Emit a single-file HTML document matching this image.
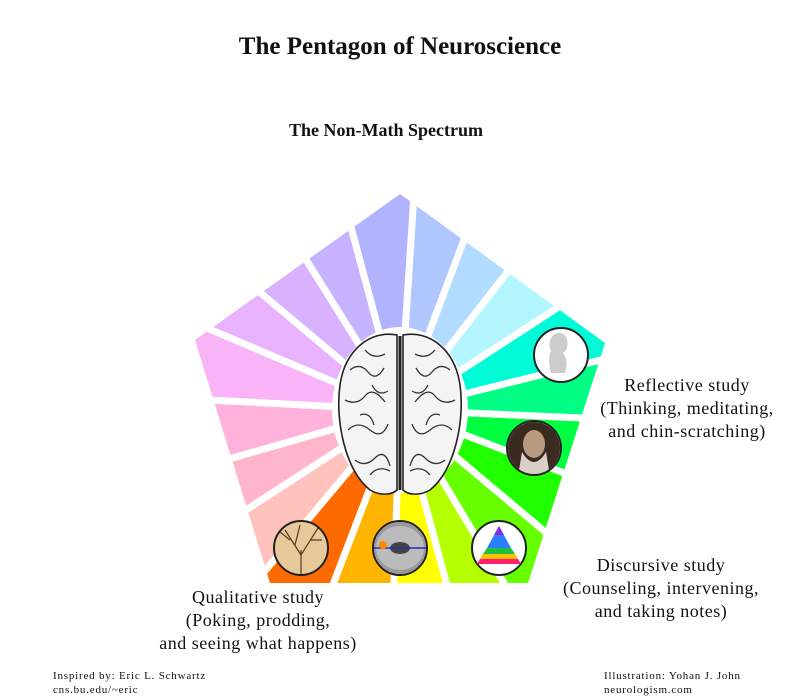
<!DOCTYPE html>
<html><head><meta charset="utf-8"><style>
html,body{margin:0;padding:0;background:#fff;}
body{width:800px;height:700px;overflow:hidden;position:relative;font-family:"Liberation Serif",serif;color:#111;}
.t{position:absolute;text-align:center;white-space:nowrap;}
.l{font-size:18px;line-height:23px;letter-spacing:0.5px;}
.f{font-size:11px;line-height:14px;text-align:left;letter-spacing:0.8px;}
</style></head><body>
<svg id="s" width="800" height="700" viewBox="0 0 800 700" style="position:absolute;left:0;top:0">
<defs>
<clipPath id="pent"><polygon points="400,194 605,343 528,583 270,583 195,340"/></clipPath>
<clipPath id="c1"><circle cx="561" cy="355" r="26"/></clipPath>
<clipPath id="c2"><circle cx="534" cy="448" r="26"/></clipPath>
<clipPath id="c3"><circle cx="499" cy="548" r="26"/></clipPath>
<clipPath id="c4"><circle cx="400" cy="548" r="26"/></clipPath>
<clipPath id="c5"><circle cx="301" cy="548" r="26"/></clipPath>
</defs>
<g id="wedges" clip-path="url(#pent)"></g>
<g id="gaps" stroke="#fff" stroke-width="7"></g>
<ellipse cx="400" cy="410" rx="68" ry="83" fill="#fff"/>
<g fill="#f4f4f4" stroke="#222" stroke-width="1.6">
<path d="M397,335 C370,330 345,350 340,385 C335,420 345,470 370,490 C380,496 392,495 397,490 Z"/>
<path d="M403,335 C430,330 455,350 460,385 C465,420 455,470 430,490 C420,496 408,495 403,490 Z"/>
</g>
<g fill="none" stroke="#333" stroke-width="1.3">
<path d="M350,370 q10,-8 18,2 t16,-4 M345,400 q12,6 20,-4 t20,6 M348,430 q10,-10 22,0 t18,-6 M355,460 q10,8 20,-2 t15,8 M365,350 q8,10 20,4 M372,385 q6,12 16,6 M360,415 q10,-4 14,10 M370,475 q8,-10 20,-4"/>
<path d="M450,370 q-10,-8 -18,2 t-16,-4 M455,400 q-12,6 -20,-4 t-20,6 M452,430 q-10,-10 -22,0 t-18,-6 M445,460 q-10,8 -20,-2 t-15,8 M435,350 q-8,10 -20,4 M428,385 q-6,12 -16,6 M440,415 q-10,-4 -14,10 M430,475 q-8,-10 -20,-4"/>
</g>
<line x1="400" y1="336" x2="400" y2="490" stroke="#222" stroke-width="3"/>
<circle cx="561" cy="355" r="27" fill="#fff" stroke="#222" stroke-width="2"/>
<g clip-path="url(#c1)"><path d="M553,335 q10,-6 14,4 q2,10 -4,14 q6,8 2,20 l-14,0 q-4,-14 0,-22 q-4,-8 2,-16z" fill="#ccc"/></g>
<circle cx="534" cy="448" r="27" fill="#fff" stroke="#222" stroke-width="2"/>
<g clip-path="url(#c2)"><rect x="505" y="420" width="60" height="60" fill="#3a2a20"/><ellipse cx="534" cy="444" rx="11" ry="14" fill="#b89a80"/><path d="M522,452 q12,20 24,0 l4,24 l-32,0z" fill="#d8d0c8"/></g>
<circle cx="499" cy="548" r="27" fill="#fff" stroke="#222" stroke-width="2"/>
<g><polygon points="499,526 487,548 511,548" fill="#2a7fff"/><polygon points="499,526 494,535 504,535" fill="#8a2be2"/><polygon points="487,548 511,548 515,554 483,554" fill="#20c040"/><polygon points="483,554 515,554 518,559 480,559" fill="#ffc000"/><polygon points="480,559 518,559 521,564 477,564" fill="#ff2070"/></g>
<circle cx="400" cy="548" r="27" fill="#fff" stroke="#222" stroke-width="2"/>
<g clip-path="url(#c4)"><rect x="370" y="520" width="60" height="60" fill="#999"/><ellipse cx="400" cy="548" rx="24" ry="22" fill="#bbb"/><ellipse cx="400" cy="548" rx="10" ry="6" fill="#444"/><line x1="374" y1="548" x2="428" y2="548" stroke="#2233aa" stroke-width="1.5"/><circle cx="383" cy="545" r="4" fill="#f80"/></g>
<circle cx="301" cy="548" r="27" fill="#e8c99a" stroke="#222" stroke-width="2"/>
<g clip-path="url(#c5)" stroke="#5a3a20" stroke-width="1.2" fill="none"><path d="M301,575 L301,550 M301,555 L285,530 M301,555 L318,528 M290,540 L280,532 M310,540 L322,540 M295,545 L300,525"/></g>
</svg>
<div class="t" style="left:0;width:800px;top:33px;font-size:25px;font-weight:bold;">The Pentagon of Neuroscience</div>
<div class="t" style="left:0;width:772px;top:120px;font-size:18px;font-weight:bold;">The Non-Math Spectrum</div>
<div class="t l" style="left:567px;width:240px;top:374px;">Reflective study<br>(Thinking, meditating,<br>and chin-scratching)</div>
<div class="t l" style="left:531px;width:260px;top:554px;">Discursive study<br>(Counseling, intervening,<br>and taking notes)</div>
<div class="t l" style="left:128px;width:260px;top:586px;">Qualitative study<br>(Poking, prodding,<br>and seeing what happens)</div>
<div class="t f" style="left:53px;top:669px;">Inspired by: Eric L. Schwartz<br>cns.bu.edu/~eric</div>
<div class="t f" style="left:604px;top:669px;">Illustration: Yohan J. John<br>neurologism.com</div>
<script>
var b=[345,3.7,20.6,37.9,57,76,92.5,111,130,149,165,182,201,220,237,254,273,293,310,328,345];
var c=["#b2b3ff","#b0c6ff","#b2dcff","#b3f6ff","#00fbd6","#00ff84","#00ff40","#20ff00","#66ff00","#b4ff00","#ffff00","#ffb400","#ff6a00","#ffc2bc","#ffb6ca","#ffb2dc","#f8b4f6","#e8b2ff","#d8b2ff","#c6b2ff"];
var cx=400,cy=410,R=320,w="",g="";
function p(a){a=a*Math.PI/180;return [(cx+R*Math.sin(a)).toFixed(1),(cy-R*Math.cos(a)).toFixed(1)];}
for(var i=0;i<20;i++){var a0=b[i],a1=b[i+1];if(a1<a0)a1+=360;var m=(a0+a1)/2;
var P=[p(a0),p(m),p(a1)];w+='<polygon fill="'+c[i]+'" points="'+cx+','+cy+' '+P.map(function(q){return q.join(',')}).join(' ')+'"/>';
var q=p(a0);g+='<line x1="'+cx+'" y1="'+cy+'" x2="'+q[0]+'" y2="'+q[1]+'"/>';}
document.getElementById('wedges').innerHTML=w;document.getElementById('gaps').innerHTML=g;
</script>
</body></html>
